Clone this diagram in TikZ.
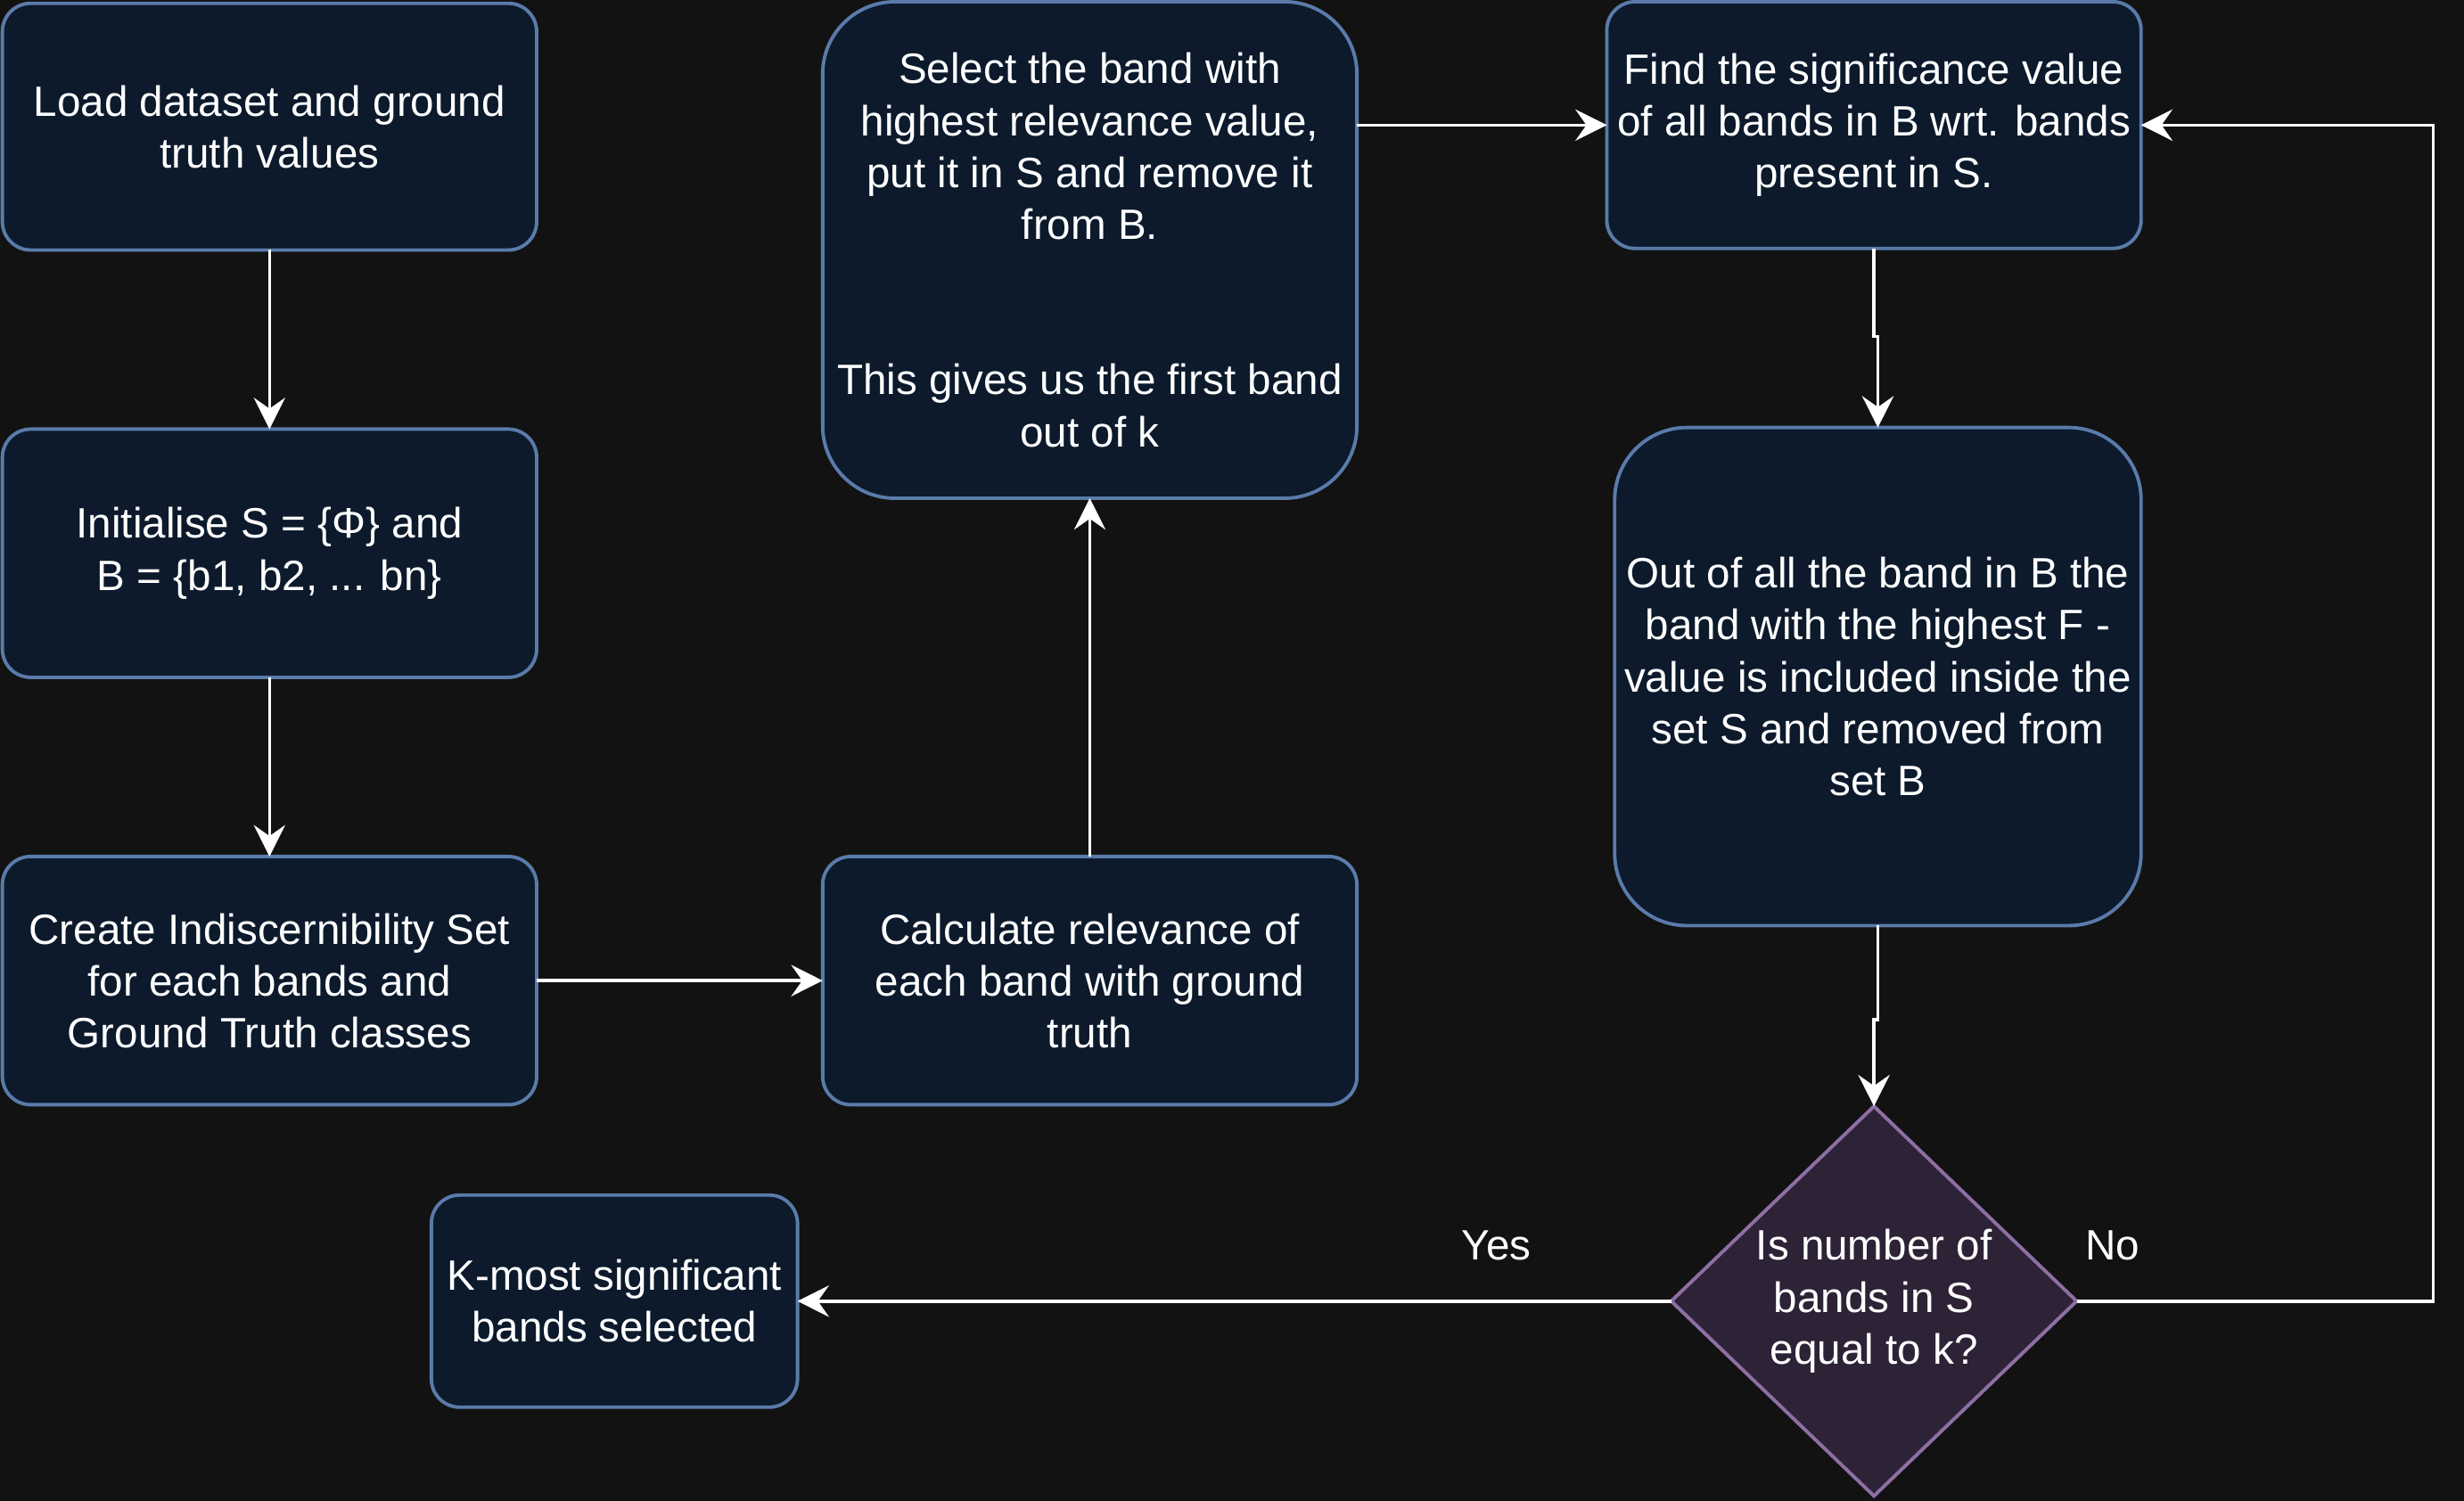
\documentclass[tikz,border=0pt]{standalone}
\usepackage{fontspec}
\setmainfont{Liberation Sans}
\usepackage{tikz}
\usetikzlibrary{arrows.meta,shapes.geometric,positioning}
\definecolor{dfbg}{RGB}{18,18,18}
\definecolor{dffill}{RGB}{12,26,44}
\definecolor{dfline}{RGB}{90,123,170}
\definecolor{dfdecfill}{RGB}{46,34,54}
\definecolor{dfdecline}{RGB}{141,111,165}
\tikzstyle{arrow} = [line width=1pt,-{Stealth[length=10pt,width=10pt,inset=3.5pt]},draw=white]
\tikzstyle{stepbox} = [rectangle, rounded corners=9pt, minimum width=170pt, minimum height=79pt, align=center, text=white, draw=dfline, fill=dffill, line width=1.1pt, inner sep=2pt, outer sep=0pt]
\tikzstyle{tallbox} = [stepbox, rounded corners=23pt, minimum height=158pt]
\tikzstyle{decisionnode} = [diamond, minimum width=129pt, minimum height=124pt, inner sep=0pt, outer sep=0pt, align=center, text=white, draw=dfdecline, fill=dfdecfill, line width=1.1pt]
\tikzstyle{branchlabel} = [text=white, anchor=base, yshift=13pt]

\begin{document}
\begin{tikzpicture}[x=0.5pt,y=-0.5pt,font=\fontsize{13.5}{16.5}\selectfont]
\fill[dfbg] (0,0) rectangle (1568,955);

% Load
\node[stepbox, minimum height=78.5pt] (load) at (171.5,80.5) {Load dataset and ground\\truth values};

% Initialise
\node[stepbox, below=57pt of load] (init) {Initialise S = \{Φ\} and\\B = \{b1, b2, ... bn\}};

% Indiscernibility
\node[stepbox, below=57pt of init] (create) {Create Indiscernibility Set\\for each bands and\\Ground Truth classes};

% Relevance
\node[stepbox, right=91pt of create] (calc) {Calculate relevance of\\each band with ground\\truth};

% First band
\node[tallbox, above=114pt of calc] (select) {Select the band with\\highest relevance value,\\put it in S and remove it\\from B.\\[33pt]This gives us the first band\\out of k};

% Significance
\node[stepbox, below right=0pt and 79.5pt of select.north east, minimum height=78.5pt] (find) {Find the significance value\\of all bands in B wrt. bands\\present in S.};

% Highest F-value
\node[tallbox, below=57pt of find, xshift=1.25pt, minimum width=167.5pt, minimum height=158.5pt] (outof) {Out of all the band in B the\\band with the highest F -\\value is included inside the\\set S and removed from\\set B};

% Check
\node[decisionnode, below=57.5pt of outof, xshift=-1.25pt] (check) {Is number of\\bands in S\\equal to k?};

% Result
\node[stepbox, left=278pt of check, minimum width=116.5pt, minimum height=67.5pt] (kmost) {K-most significant\\bands selected};

\draw[arrow] (load) -- (init);
\draw[arrow] (init) -- (create);
\draw[arrow] (create) -- (calc);
\draw[arrow] (calc) -- (select);
\draw[arrow] (select.east |- find.west) -- (find.west);
\draw[arrow] (find.south) -- ++(0,-28pt) -| (outof.north);
\draw[arrow] (outof.south) -- ++(0,-30pt) -| (check.north);
\draw[arrow] (check.west) -- node[branchlabel, pos=0.2] {Yes} (kmost.east);
\draw[arrow] (check.east) -- node[branchlabel, pos=0.1] {No} ++(113.5pt,0) |- (find.east);
\end{tikzpicture}
\end{document}
